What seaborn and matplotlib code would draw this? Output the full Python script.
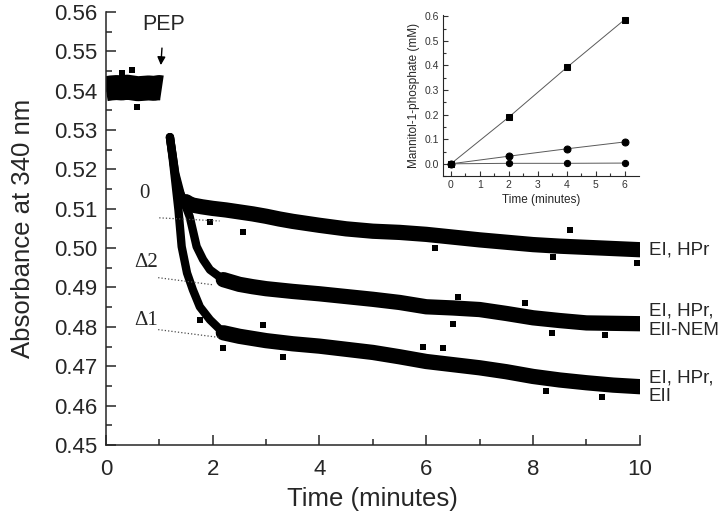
import matplotlib
matplotlib.use('Agg')
import matplotlib.pyplot as plt
import seaborn as sns
import pandas as pd
from matplotlib.ticker import MultipleLocator

# --- data ---
# absorbance baseline before PEP addition
pre_t = [0.0, 0.1, 0.2, 0.3, 0.4, 0.5, 0.6, 0.7, 0.8, 0.9, 1.0, 1.05]
pre_a = [0.5405, 0.5407, 0.5408, 0.5407, 0.5409, 0.5407, 0.5405, 0.5406, 0.5407, 0.5406, 0.5408, 0.5407]

# EI, HPr
hp_steep_t = [1.2, 1.25, 1.3, 1.36, 1.42, 1.5]
hp_steep_a = [0.5282, 0.5235, 0.5185, 0.5150, 0.5130, 0.5118]
hp_t = [1.5, 1.6, 1.8, 2.0, 2.25, 2.5, 2.75, 3.0, 3.25, 3.5, 3.75, 4.0, 4.5, 5.0, 5.5,
        6.0, 6.5, 7.0, 7.5, 8.0, 8.5, 9.0, 9.5, 10.0]
hp_a = [0.5118, 0.5110, 0.5105, 0.5101, 0.5097, 0.5092, 0.5087, 0.5081, 0.5074, 0.5068,
        0.5063, 0.5058, 0.5049, 0.5043, 0.5040, 0.5035, 0.5028, 0.5021, 0.5015, 0.5009,
        0.5005, 0.5002, 0.4999, 0.4996]

# EI, HPr, EII-NEM
nem_steep_t = [1.2, 1.3, 1.4, 1.5, 1.57, 1.7, 1.82, 1.95, 2.2]
nem_steep_a = [0.5282, 0.5190, 0.5138, 0.5105, 0.5080, 0.5004, 0.4971, 0.4945, 0.4920]
nem_t = [2.2, 2.5, 2.75, 3.0, 3.5, 4.0, 4.5, 5.0, 5.5, 6.0, 6.5, 7.0, 7.5, 8.0, 8.5,
         9.0, 9.5, 10.0]
nem_a = [0.4920, 0.4908, 0.4902, 0.4897, 0.4890, 0.4884, 0.4877, 0.4870, 0.4862, 0.4851,
         0.4848, 0.4844, 0.4834, 0.4823, 0.4816, 0.4810, 0.4809, 0.4808]

# EI, HPr, EII
ii_steep_t = [1.2, 1.25, 1.3, 1.36, 1.42, 1.52, 1.63, 1.76, 1.95, 2.2]
ii_steep_a = [0.5282, 0.5230, 0.5170, 0.5097, 0.5004, 0.4937, 0.4894, 0.4851, 0.4818, 0.4785]
ii_t = [2.2, 2.5, 3.0, 3.5, 4.0, 4.5, 5.0, 5.5, 6.0, 6.5, 7.0, 7.5, 8.0, 8.5, 9.0, 9.5, 10.0]
ii_a = [0.4785, 0.4776, 0.4765, 0.4757, 0.4751, 0.4743, 0.4735, 0.4724, 0.4712, 0.4704,
        0.4696, 0.4686, 0.4674, 0.4665, 0.4658, 0.4652, 0.4648]

# stray points sticking out of the bands
out_t = [0.58, 0.49, 0.30, 1.95, 2.57, 6.16, 8.37, 8.69, 9.94,
         6.60, 6.50, 8.35, 9.34, 7.85,
         1.76, 2.19, 2.94, 3.32, 5.94, 6.32, 8.25, 9.29]
out_a = [0.5359, 0.5453, 0.5444, 0.5067, 0.5042, 0.5001, 0.4978, 0.5047, 0.4963,
         0.4877, 0.4806, 0.4785, 0.4780, 0.4861,
         0.4818, 0.4747, 0.4805, 0.4724, 0.4750, 0.4747, 0.4636, 0.4623]

# extrapolated back lines (dotted)
ext_t = [[1.0, 2.13], [0.98, 2.0], [0.98, 2.13]]
ext_a = [[0.5077, 0.5069], [0.4925, 0.4907], [0.4793, 0.4773]]
delta_labels = ['0', 'Δ2', 'Δ1']
delta_pos = [(0.73, 0.5140), (0.75, 0.4964), (0.75, 0.4817)]

trace_names = ['EI, HPr', 'EI, HPr,\nEII-NEM', 'EI, HPr,\nEII']
trace_label_y = [0.4996, 0.4816, 0.4647]

# inset: mannitol-1-phosphate formation
inset_time = [0, 2, 4, 6]
m1p_eii = [0.0, 0.19, 0.392, 0.587]
m1p_nem = [0.0, 0.031, 0.061, 0.089]
m1p_none = [0.0, 0.002, 0.002, 0.003]

sns.set_theme(style='ticks')
plt.rcParams['font.family'] = ['Liberation Sans', 'DejaVu Sans']
plt.rcParams['axes.linewidth'] = 1.1

fig = plt.figure(figsize=(7.2, 5.21), dpi=100)
ax = fig.add_axes([0.147, 0.146, 0.7417, 0.831])

# baseline band
sns.lineplot(x=pre_t, y=pre_a, ax=ax, color='black', lw=18, sort=False,
             estimator=None, solid_capstyle='butt')

for st, sa, ft, fa in [(hp_steep_t, hp_steep_a, hp_t, hp_a),
                       (nem_steep_t, nem_steep_a, nem_t, nem_a),
                       (ii_steep_t, ii_steep_a, ii_t, ii_a)]:
    sns.lineplot(x=st, y=sa, ax=ax, color='black', lw=6, sort=False,
                 estimator=None, solid_capstyle='round')
    sns.lineplot(x=ft, y=fa, ax=ax, color='black', lw=11, sort=False,
                 estimator=None, solid_capstyle='round')

sns.scatterplot(x=out_t, y=out_a, ax=ax, marker='s', color='black', s=18,
                linewidth=0)

for et, ea in zip(ext_t, ext_a):
    ax.plot(et, ea, ls=':', color='0.3', lw=0.9)

for lab, (lx, ly) in zip(delta_labels, delta_pos):
    ax.text(lx, ly, lab, fontsize=15, family=['Liberation Serif', 'DejaVu Serif'],
            ha='center', va='center')

for name, ly in zip(trace_names, trace_label_y):
    ax.text(10.17, ly, name, fontsize=13.5, ha='left', va='center',
            linespacing=1.15, clip_on=False)

ax.annotate('PEP', xy=(1.03, 0.5465), xytext=(1.08, 0.5568), fontsize=15.5,
            ha='center', va='center',
            arrowprops=dict(arrowstyle='-|>', color='black', lw=1.0,
                            mutation_scale=12, shrinkA=7, shrinkB=0))

ax.set_xlim(0, 10)
ax.set_ylim(0.45, 0.56)
ax.xaxis.set_major_locator(MultipleLocator(2))
ax.xaxis.set_minor_locator(MultipleLocator(1))
ax.yaxis.set_major_locator(MultipleLocator(0.01))
ax.yaxis.set_minor_locator(MultipleLocator(0.005))
ax.yaxis.set_major_formatter(plt.FormatStrFormatter('%.2f'))
ax.tick_params(which='both', direction='in', width=1.1, labelsize=16)
ax.tick_params(axis='x', which='both', pad=10)
ax.tick_params(axis='y', which='both', pad=6)
ax.tick_params(which='major', length=7)
ax.tick_params(which='minor', length=4)
ax.set_xlabel('Time (minutes)', fontsize=18.5, labelpad=5)
ax.set_ylabel('Absorbance at 340 nm', fontsize=18.5, labelpad=14)
sns.despine(ax=ax)

# inset
ins = fig.add_axes([0.615, 0.662, 0.272, 0.309])
df_in = pd.DataFrame({'time': inset_time * 3,
                      'm1p': m1p_eii + m1p_nem + m1p_none,
                      'series': ['EII'] * 4 + ['NEM'] * 4 + ['none'] * 4})
for ser, mk, ms in [('EII', 's', 4.5), ('NEM', 'o', 5), ('none', 'o', 4.5)]:
    sub = df_in[df_in['series'] == ser]
    sns.lineplot(data=sub, x='time', y='m1p', ax=ins, color='0.35', lw=0.7,
                 marker=mk, markersize=ms, markerfacecolor='black',
                 markeredgecolor='black', estimator=None)
ins.set_xlim(-0.28, 6.48)
ins.set_ylim(-0.05, 0.605)
ins.xaxis.set_major_locator(MultipleLocator(1))
ins.xaxis.set_minor_locator(MultipleLocator(0.5))
ins.yaxis.set_major_locator(MultipleLocator(0.1))
ins.yaxis.set_minor_locator(MultipleLocator(0.05))
ins.yaxis.set_major_formatter(plt.FormatStrFormatter('%.1f'))
ins.tick_params(which='both', direction='in', width=0.8, labelsize=7.5, pad=3,
                colors='0.2')
ins.tick_params(which='major', length=3.5)
ins.tick_params(which='minor', length=2)
for sp in ins.spines.values():
    sp.set_linewidth(0.8)
ins.set_xlabel('Time (minutes)', fontsize=8.5, labelpad=3)
ins.set_ylabel('Mannitol-1-phosphate (mM)', fontsize=8.5, labelpad=3)
sns.despine(ax=ins)

fig.savefig('out.png', dpi=100)
